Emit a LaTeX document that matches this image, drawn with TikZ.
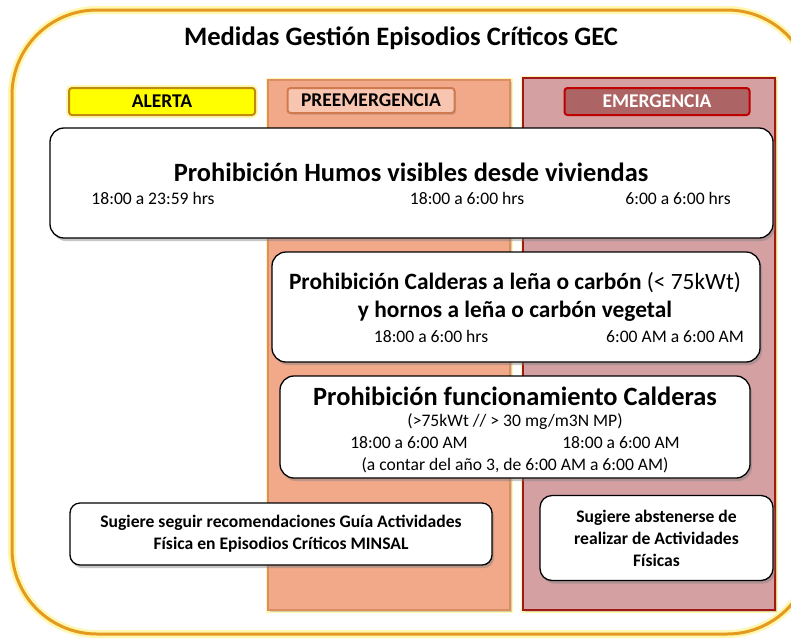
\documentclass[tikz,border=0pt]{standalone}
\usepackage{fontspec}
\setmainfont{Carlito}
\usetikzlibrary{shadows}
\definecolor{frameor}{HTML}{E39A1E}
\definecolor{glowy}{HTML}{FFF6B0}
\definecolor{alertfill}{HTML}{FFFF00}
\definecolor{alertdraw}{HTML}{C08A10}
\definecolor{prefill}{HTML}{F2A98A}
\definecolor{predraw}{HTML}{DC8E62}
\definecolor{prehfill}{HTML}{F8C6B0}
\definecolor{prehdraw}{HTML}{D07A50}
\definecolor{emfill}{HTML}{D4A0A2}
\definecolor{emdraw}{HTML}{A01818}
\definecolor{emhfill}{HTML}{AD6464}
\definecolor{emhdraw}{HTML}{C00000}
\tikzset{
  x=1pt, y=-1pt,
  whitebox/.style={draw=black, line width=1.3pt, fill=white, rounded corners=14pt,
    drop shadow={shadow xshift=2pt, shadow yshift=-3pt, opacity=0.45}},
  hdrbox/.style={rounded corners=3pt, line width=2pt},
  hdrtext/.style={font=\bfseries\fontsize{19.5}{22}\selectfont},
  timetxt/.style={font=\fontsize{17.6}{20}\selectfont, text height=12.5pt, text depth=3.5pt, yshift=-1.5pt},
  bigtitle/.style={font=\bfseries\fontsize{26.4}{30}\selectfont},
  smalltxt/.style={font=\bfseries\fontsize{17.6}{22}\selectfont, align=center},
}
\begin{document}
\begin{tikzpicture}
\useasboundingbox (0,0) rectangle (791,638);
% outer frame
\draw[glowy, line width=8pt, rounded corners=85pt] (12,10) rectangle (812,634);
\draw[frameor, line width=3pt, rounded corners=85pt] (12,10) rectangle (812,634);
\node[font=\bfseries\fontsize{26.6}{30}\selectfont] (title) at (401,38) {Medidas Gestión Episodios Críticos GEC};

% columns
\draw[glowy, line width=5pt] (268,80) rectangle (510,610);
\draw[fill=prefill, draw=predraw, line width=2pt, drop shadow={shadow xshift=2pt, shadow yshift=-2pt, opacity=0.3}] (268,80) rectangle (510,610);
\draw[glowy, line width=5pt] (523,78) rectangle (775,610);
\draw[fill=emfill, draw=emdraw, line width=1.5pt, drop shadow={shadow xshift=2pt, shadow yshift=-2pt, opacity=0.3}] (523,78) rectangle (775,610);

% headers
\draw[glowy, line width=6pt, rounded corners=3pt] (69,88) rectangle (255,115);
\node[hdrbox, draw=alertdraw, fill=alertfill, minimum width=186pt, minimum height=27pt, inner sep=0pt, hdrtext] (alerta) at (162,101.5) {ALERTA};
\node[hdrbox, draw=prehdraw, fill=prehfill, minimum width=167pt, minimum height=25pt, inner sep=0pt, hdrtext,
  drop shadow={shadow xshift=1.5pt, shadow yshift=-1.5pt, opacity=0.35}] (pre) at (371,100.5) {PREEMERGENCIA};
\node[hdrbox, draw=emhdraw, fill=emhfill, minimum width=185pt, minimum height=27pt, inner sep=0pt, hdrtext, text=white] (eme) at (657,101.5) {EMERGENCIA};

% box 1
\node[whitebox, minimum width=723pt, minimum height=110pt] (b1) at (411.5,183) {};
\node[bigtitle] (b1t) at (411,172) {Prohibición Humos visibles desde viviendas};
\node[timetxt] (b1a) at (153,198) {18:00 a 23:59 hrs};
\node[timetxt] (b1b) at (467,198) {18:00 a 6:00 hrs};
\node[timetxt] (b1c) at (678,198) {6:00 a 6:00 hrs};

% box 2
\node[whitebox, minimum width=488pt, minimum height=110pt] (b2) at (516,307) {};
\node[font=\bfseries\fontsize{23.4}{27}\selectfont] (b2t) at (515,283) {Prohibición Calderas a leña o carbón \mdseries(< 75kWt)};
\node[font=\bfseries\fontsize{23.4}{27}\selectfont] (b2u) at (515,311) {y hornos a leña o carbón vegetal};
\node[timetxt] (b2a) at (431,336) {18:00 a 6:00 hrs};
\node[timetxt] (b2b) at (675,336) {6:00 AM a 6:00 AM};

% box 3
\node[whitebox, minimum width=470pt, minimum height=102pt] (b3) at (515,427) {};
\node[font=\bfseries\fontsize{26.4}{30}\selectfont] (b3t) at (515,396) {Prohibición funcionamiento Calderas};
\node[timetxt] (b3u) at (515,420) {(>75kWt // > 30 mg/m3N MP)};
\node[timetxt] (b3a) at (409,442) {18:00 a 6:00 AM};
\node[timetxt] (b3b) at (621,442) {18:00 a 6:00 AM};
\node[timetxt] (b3c) at (515,464) {(a contar del año 3, de 6:00 AM a 6:00 AM)};

% box 4
\node[whitebox, rounded corners=10pt, minimum width=422pt, minimum height=62pt, smalltxt] (b4) at (281,534)
  {Sugiere seguir recomendaciones Guía Actividades\\Física en Episodios Críticos MINSAL};

% box 5
\node[whitebox, rounded corners=12pt, minimum width=233pt, minimum height=85pt, smalltxt] (b5) at (656.5,538)
  {Sugiere abstenerse de\\realizar de Actividades\\Físicas};
\end{tikzpicture}
\end{document}
